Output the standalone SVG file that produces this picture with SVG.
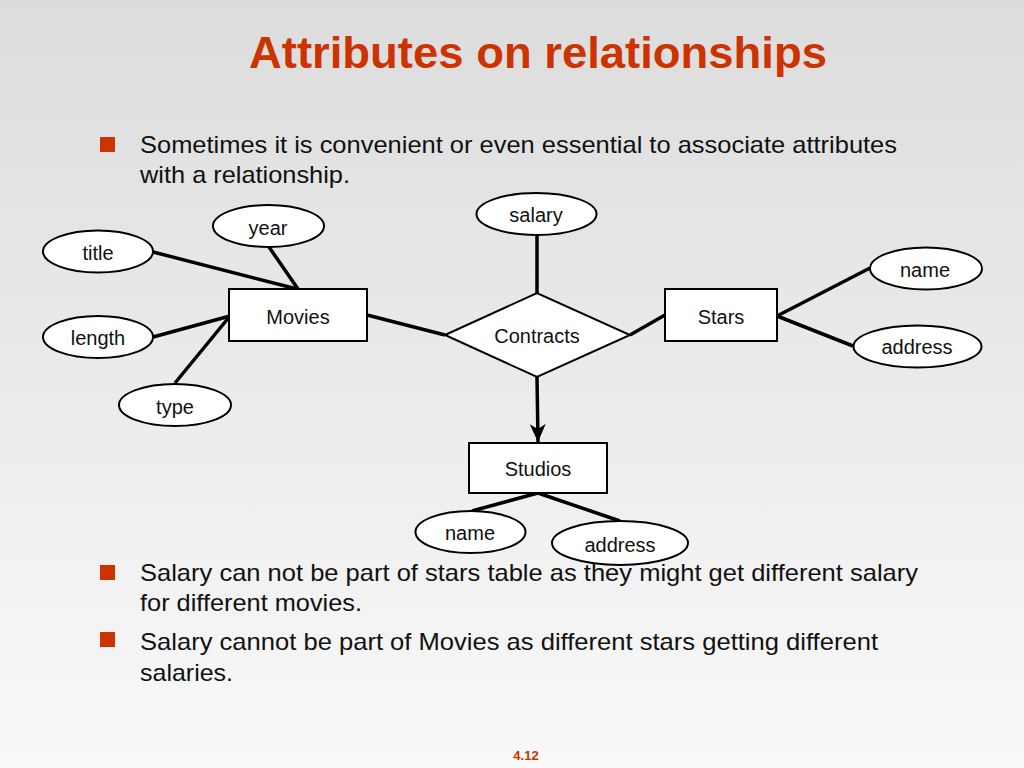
<svg xmlns="http://www.w3.org/2000/svg" width="1024" height="768" viewBox="0 0 1024 768">
<defs>
<linearGradient id="bg" x1="0" y1="0" x2="0" y2="1">
<stop offset="0" stop-color="#dcdcdc"/>
<stop offset="0.5" stop-color="#ebebeb"/>
<stop offset="1" stop-color="#f9f9f9"/>
</linearGradient>
<marker id="arr" markerWidth="20" markerHeight="20" viewBox="0 0 20 20" refX="18" refY="10" orient="auto" markerUnits="userSpaceOnUse">
<path d="M0,2 L18,10 L0,18 L5,10 Z" fill="#000"/>
</marker>
<style>
.t{font-family:"Liberation Sans",Arial,sans-serif;fill:#111}
.b{font-size:24px}
.n{font-size:20px;text-anchor:middle}
.ent{fill:#fff;stroke:#000;stroke-width:2}
.att{fill:#fff;stroke:#000;stroke-width:2}
.ln{stroke:#000;stroke-width:3.5;fill:none}
.sq{fill:#cc3300}
</style>
</defs>
<rect width="1024" height="768" fill="url(#bg)"/>
<text x="538" y="68" text-anchor="middle" font-family="Liberation Sans,Arial,sans-serif" font-weight="bold" font-size="44" fill="#cc3300" textLength="578" lengthAdjust="spacingAndGlyphs">Attributes on relationships</text>
<rect class="sq" x="100" y="137" width="15" height="15"/>
<text class="t b" x="140" y="153" textLength="757" lengthAdjust="spacingAndGlyphs">Sometimes it is convenient or even essential to associate attributes</text>
<text class="t b" x="140" y="183" textLength="210" lengthAdjust="spacingAndGlyphs">with a relationship.</text>
<g id="connectors">
<line class="ln" x1="153" y1="252" x2="297" y2="289"/>
<line class="ln" x1="269" y1="247" x2="298" y2="289"/>
<line class="ln" x1="153" y1="337" x2="230" y2="316"/>
<line class="ln" x1="175" y1="383" x2="230" y2="316"/>
<line class="ln" x1="367" y1="315" x2="445" y2="335"/>
<line class="ln" x1="537" y1="235" x2="537" y2="293"/>
<line class="ln" x1="630" y1="335" x2="665" y2="315"/>
<line class="ln" x1="777" y1="316" x2="870" y2="268"/>
<line class="ln" x1="777" y1="316" x2="853" y2="346"/>
<line class="ln" x1="537" y1="377" x2="538" y2="442" marker-end="url(#arr)"/>
<line class="ln" x1="538" y1="493" x2="472" y2="511"/>
<line class="ln" x1="538" y1="493" x2="620" y2="521"/>
</g>
<g id="movies"><rect class="ent" x="229" y="289" width="138" height="52"/><text class="t n" x="298" y="324">Movies</text></g>
<g id="stars"><rect class="ent" x="665" y="289" width="112" height="52"/><text class="t n" x="721" y="324">Stars</text></g>
<g id="studios"><rect class="ent" x="469" y="443" width="138" height="50"/><text class="t n" x="538" y="476">Studios</text></g>
<g id="contracts"><polygon class="ent" points="445,335 537,293 630,335 537,377"/><text class="t n" x="537" y="343">Contracts</text></g>
<g id="salary"><ellipse class="att" cx="536.5" cy="214" rx="60" ry="21"/><text class="t n" x="536" y="222">salary</text></g>
<g id="year"><ellipse class="att" cx="268.5" cy="226" rx="55.5" ry="21"/><text class="t n" x="268" y="235">year</text></g>
<g id="title"><ellipse class="att" cx="98" cy="251.5" rx="55" ry="21"/><text class="t n" x="98" y="260">title</text></g>
<g id="length"><ellipse class="att" cx="98" cy="337" rx="55" ry="21"/><text class="t n" x="98" y="345">length</text></g>
<g id="type"><ellipse class="att" cx="175" cy="405" rx="56" ry="21"/><text class="t n" x="175" y="414">type</text></g>
<g id="star-name"><ellipse class="att" cx="926" cy="268.5" rx="56" ry="21"/><text class="t n" x="925" y="277">name</text></g>
<g id="star-address"><ellipse class="att" cx="917.5" cy="346.5" rx="64" ry="21"/><text class="t n" x="917" y="354">address</text></g>
<g id="studio-name"><ellipse class="att" cx="470.5" cy="532" rx="55" ry="21"/><text class="t n" x="470" y="540">name</text></g>
<g id="studio-address"><ellipse class="att" cx="620" cy="543" rx="68" ry="22"/><text class="t n" x="620" y="552">address</text></g>
<rect class="sq" x="100" y="565" width="15" height="15"/>
<text class="t b" x="140" y="581" textLength="778" lengthAdjust="spacingAndGlyphs">Salary can not be part of stars table as they might get different salary</text>
<text class="t b" x="140" y="611" textLength="222" lengthAdjust="spacingAndGlyphs">for different movies.</text>
<rect class="sq" x="100" y="632" width="15" height="15"/>
<text class="t b" x="140" y="650" textLength="738" lengthAdjust="spacingAndGlyphs">Salary cannot be part of Movies as different stars getting different</text>
<text class="t b" x="140" y="681" textLength="93" lengthAdjust="spacingAndGlyphs">salaries.</text>
<text x="526" y="760" text-anchor="middle" font-family="Liberation Sans,Arial,sans-serif" font-weight="bold" font-size="13" fill="#cc3300">4.12</text>
</svg>
